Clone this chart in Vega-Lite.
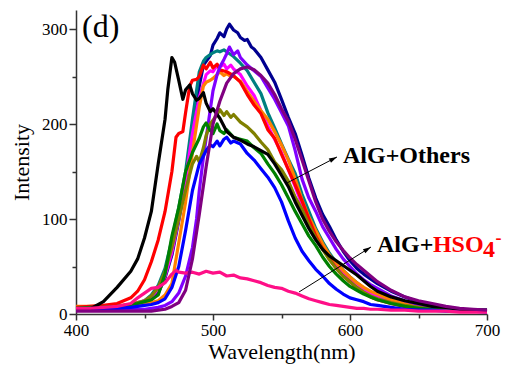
{
"$schema":"https://vega.github.io/schema/vega-lite/v6.json",
"width":411,"height":304,
"autosize":{"type":"none"},
"padding":{"left":76,"top":10,"right":18,"bottom":55},
"background":"white",
"config":{"view":{"stroke":null},"font":"Liberation Serif",
"axis":{"grid":false,"domainColor":"#333","domainWidth":1.5,"tickColor":"#333","tickWidth":1.5,"labelFont":"Liberation Serif","labelFontSize":17,"labelColor":"#000","titleFont":"Liberation Serif","titleFontSize":22,"titleFontWeight":"normal","titleColor":"#000","labelFlush":false,"labelOverlap":false}},
"datasets":{
"spec":[
{"s":"n","x":400,"y":6},{"s":"n","x":410,"y":6},{"s":"n","x":420,"y":7},{"s":"n","x":430,"y":7},{"s":"n","x":440,"y":8},{"s":"n","x":445,"y":9},{"s":"n","x":450,"y":11},{"s":"n","x":455,"y":15},{"s":"n","x":460,"y":22},{"s":"n","x":465,"y":38},{"s":"n","x":470,"y":62},{"s":"n","x":475,"y":98},{"s":"n","x":480,"y":140},{"s":"n","x":485,"y":195},{"s":"n","x":490,"y":240},{"s":"n","x":493,"y":262},{"s":"n","x":495,"y":266},{"s":"n","x":498,"y":272},{"s":"n","x":500,"y":283},{"s":"n","x":503,"y":290},{"s":"n","x":505,"y":296},{"s":"n","x":508,"y":292},{"s":"n","x":510,"y":300},{"s":"n","x":512,"y":305},{"s":"n","x":515,"y":299},{"s":"n","x":518,"y":296},{"s":"n","x":520,"y":291},{"s":"n","x":523,"y":288},{"s":"n","x":525,"y":289},{"s":"n","x":528,"y":281},{"s":"n","x":530,"y":279},{"s":"n","x":535,"y":270},{"s":"n","x":540,"y":257},{"s":"n","x":545,"y":244},{"s":"n","x":550,"y":226},{"s":"n","x":555,"y":207},{"s":"n","x":560,"y":190},{"s":"n","x":565,"y":167},{"s":"n","x":570,"y":143},{"s":"n","x":575,"y":122},{"s":"n","x":580,"y":105},{"s":"n","x":585,"y":92},{"s":"n","x":590,"y":78},{"s":"n","x":595,"y":66},{"s":"n","x":600,"y":56},{"s":"n","x":605,"y":48},{"s":"n","x":610,"y":42},{"s":"n","x":615,"y":37},{"s":"n","x":620,"y":32},{"s":"n","x":630,"y":24},{"s":"n","x":640,"y":18},{"s":"n","x":650,"y":13},{"s":"n","x":660,"y":9},{"s":"n","x":670,"y":7},{"s":"n","x":680,"y":5},{"s":"n","x":690,"y":4},{"s":"n","x":700,"y":4},
{"s":"t","x":400,"y":6},{"s":"t","x":410,"y":6},{"s":"t","x":420,"y":7},{"s":"t","x":430,"y":8},{"s":"t","x":440,"y":9},{"s":"t","x":445,"y":11},{"s":"t","x":450,"y":14},{"s":"t","x":455,"y":20},{"s":"t","x":460,"y":30},{"s":"t","x":465,"y":48},{"s":"t","x":470,"y":78},{"s":"t","x":475,"y":112},{"s":"t","x":480,"y":150},{"s":"t","x":485,"y":205},{"s":"t","x":490,"y":255},{"s":"t","x":493,"y":266},{"s":"t","x":495,"y":270},{"s":"t","x":498,"y":273},{"s":"t","x":500,"y":275},{"s":"t","x":503,"y":277},{"s":"t","x":505,"y":276},{"s":"t","x":508,"y":278},{"s":"t","x":510,"y":276},{"s":"t","x":515,"y":271},{"s":"t","x":520,"y":264},{"s":"t","x":525,"y":256},{"s":"t","x":530,"y":244},{"s":"t","x":535,"y":232},{"s":"t","x":540,"y":212},{"s":"t","x":545,"y":196},{"s":"t","x":550,"y":179},{"s":"t","x":555,"y":163},{"s":"t","x":560,"y":148},{"s":"t","x":565,"y":126},{"s":"t","x":570,"y":108},{"s":"t","x":575,"y":90},{"s":"t","x":580,"y":76},{"s":"t","x":585,"y":64},{"s":"t","x":590,"y":54},{"s":"t","x":595,"y":46},{"s":"t","x":600,"y":39},{"s":"t","x":605,"y":33},{"s":"t","x":610,"y":27},{"s":"t","x":615,"y":23},{"s":"t","x":620,"y":19},{"s":"t","x":630,"y":14},{"s":"t","x":640,"y":10},{"s":"t","x":650,"y":8},{"s":"t","x":660,"y":6},{"s":"t","x":670,"y":5},{"s":"t","x":680,"y":4},{"s":"t","x":690,"y":4},{"s":"t","x":700,"y":3},
{"s":"m","x":400,"y":6},{"s":"m","x":410,"y":7},{"s":"m","x":420,"y":7},{"s":"m","x":430,"y":8},{"s":"m","x":440,"y":10},{"s":"m","x":445,"y":12},{"s":"m","x":450,"y":14},{"s":"m","x":455,"y":18},{"s":"m","x":460,"y":26},{"s":"m","x":465,"y":40},{"s":"m","x":470,"y":65},{"s":"m","x":475,"y":100},{"s":"m","x":480,"y":142},{"s":"m","x":485,"y":190},{"s":"m","x":490,"y":228},{"s":"m","x":495,"y":252},{"s":"m","x":498,"y":256},{"s":"m","x":500,"y":255},{"s":"m","x":503,"y":262},{"s":"m","x":505,"y":260},{"s":"m","x":508,"y":263},{"s":"m","x":510,"y":258},{"s":"m","x":513,"y":262},{"s":"m","x":515,"y":258},{"s":"m","x":520,"y":252},{"s":"m","x":525,"y":240},{"s":"m","x":530,"y":230},{"s":"m","x":535,"y":214},{"s":"m","x":540,"y":198},{"s":"m","x":545,"y":184},{"s":"m","x":550,"y":170},{"s":"m","x":555,"y":152},{"s":"m","x":560,"y":134},{"s":"m","x":565,"y":115},{"s":"m","x":570,"y":98},{"s":"m","x":575,"y":83},{"s":"m","x":580,"y":70},{"s":"m","x":585,"y":60},{"s":"m","x":590,"y":51},{"s":"m","x":595,"y":43},{"s":"m","x":600,"y":37},{"s":"m","x":605,"y":31},{"s":"m","x":610,"y":26},{"s":"m","x":615,"y":22},{"s":"m","x":620,"y":19},{"s":"m","x":630,"y":14},{"s":"m","x":640,"y":10},{"s":"m","x":650,"y":7},{"s":"m","x":660,"y":6},{"s":"m","x":670,"y":5},{"s":"m","x":680,"y":4},{"s":"m","x":690,"y":4},{"s":"m","x":700,"y":3},
{"s":"o","x":400,"y":8},{"s":"o","x":410,"y":8},{"s":"o","x":420,"y":8},{"s":"o","x":430,"y":9},{"s":"o","x":440,"y":9},{"s":"o","x":445,"y":10},{"s":"o","x":450,"y":11},{"s":"o","x":455,"y":12},{"s":"o","x":460,"y":14},{"s":"o","x":465,"y":20},{"s":"o","x":470,"y":32},{"s":"o","x":475,"y":75},{"s":"o","x":480,"y":118},{"s":"o","x":485,"y":170},{"s":"o","x":490,"y":218},{"s":"o","x":493,"y":240},{"s":"o","x":495,"y":244},{"s":"o","x":498,"y":246},{"s":"o","x":500,"y":248},{"s":"o","x":503,"y":252},{"s":"o","x":505,"y":255},{"s":"o","x":508,"y":251},{"s":"o","x":510,"y":253},{"s":"o","x":513,"y":250},{"s":"o","x":515,"y":250},{"s":"o","x":520,"y":245},{"s":"o","x":525,"y":234},{"s":"o","x":530,"y":224},{"s":"o","x":535,"y":214},{"s":"o","x":540,"y":205},{"s":"o","x":545,"y":192},{"s":"o","x":550,"y":178},{"s":"o","x":555,"y":162},{"s":"o","x":560,"y":142},{"s":"o","x":565,"y":120},{"s":"o","x":570,"y":102},{"s":"o","x":575,"y":88},{"s":"o","x":580,"y":74},{"s":"o","x":585,"y":62},{"s":"o","x":590,"y":54},{"s":"o","x":595,"y":46},{"s":"o","x":600,"y":39},{"s":"o","x":605,"y":33},{"s":"o","x":610,"y":28},{"s":"o","x":615,"y":24},{"s":"o","x":620,"y":21},{"s":"o","x":630,"y":15},{"s":"o","x":640,"y":11},{"s":"o","x":650,"y":8},{"s":"o","x":660,"y":6},{"s":"o","x":670,"y":5},{"s":"o","x":680,"y":4},{"s":"o","x":690,"y":4},{"s":"o","x":700,"y":3},
{"s":"r","x":400,"y":7},{"s":"r","x":410,"y":8},{"s":"r","x":420,"y":9},{"s":"r","x":430,"y":11},{"s":"r","x":440,"y":17},{"s":"r","x":445,"y":24},{"s":"r","x":450,"y":36},{"s":"r","x":455,"y":55},{"s":"r","x":460,"y":78},{"s":"r","x":465,"y":108},{"s":"r","x":470,"y":150},{"s":"r","x":473,"y":186},{"s":"r","x":475,"y":190},{"s":"r","x":478,"y":192},{"s":"r","x":480,"y":212},{"s":"r","x":483,"y":240},{"s":"r","x":485,"y":246},{"s":"r","x":488,"y":247},{"s":"r","x":490,"y":250},{"s":"r","x":493,"y":262},{"s":"r","x":495,"y":258},{"s":"r","x":498,"y":265},{"s":"r","x":500,"y":259},{"s":"r","x":503,"y":263},{"s":"r","x":505,"y":257},{"s":"r","x":510,"y":255},{"s":"r","x":515,"y":251},{"s":"r","x":520,"y":244},{"s":"r","x":525,"y":231},{"s":"r","x":530,"y":220},{"s":"r","x":535,"y":211},{"s":"r","x":540,"y":194},{"s":"r","x":545,"y":185},{"s":"r","x":550,"y":168},{"s":"r","x":555,"y":152},{"s":"r","x":560,"y":136},{"s":"r","x":565,"y":119},{"s":"r","x":570,"y":100},{"s":"r","x":575,"y":82},{"s":"r","x":580,"y":69},{"s":"r","x":585,"y":58},{"s":"r","x":590,"y":48},{"s":"r","x":595,"y":40},{"s":"r","x":600,"y":34},{"s":"r","x":605,"y":27},{"s":"r","x":610,"y":22},{"s":"r","x":615,"y":18},{"s":"r","x":620,"y":15},{"s":"r","x":630,"y":11},{"s":"r","x":640,"y":8},{"s":"r","x":650,"y":6},{"s":"r","x":660,"y":5},{"s":"r","x":670,"y":4},{"s":"r","x":680,"y":4},{"s":"r","x":690,"y":3},{"s":"r","x":700,"y":3},
{"s":"v","x":400,"y":4},{"s":"v","x":410,"y":4},{"s":"v","x":420,"y":4},{"s":"v","x":430,"y":4},{"s":"v","x":440,"y":5},{"s":"v","x":445,"y":5},{"s":"v","x":450,"y":5},{"s":"v","x":455,"y":6},{"s":"v","x":460,"y":7},{"s":"v","x":465,"y":9},{"s":"v","x":470,"y":13},{"s":"v","x":475,"y":22},{"s":"v","x":480,"y":40},{"s":"v","x":485,"y":70},{"s":"v","x":488,"y":100},{"s":"v","x":490,"y":130},{"s":"v","x":493,"y":165},{"s":"v","x":495,"y":185},{"s":"v","x":498,"y":215},{"s":"v","x":500,"y":235},{"s":"v","x":503,"y":252},{"s":"v","x":505,"y":260},{"s":"v","x":508,"y":268},{"s":"v","x":510,"y":274},{"s":"v","x":512,"y":281},{"s":"v","x":515,"y":273},{"s":"v","x":518,"y":277},{"s":"v","x":520,"y":270},{"s":"v","x":525,"y":262},{"s":"v","x":530,"y":256},{"s":"v","x":535,"y":250},{"s":"v","x":540,"y":238},{"s":"v","x":545,"y":226},{"s":"v","x":550,"y":212},{"s":"v","x":555,"y":198},{"s":"v","x":560,"y":172},{"s":"v","x":565,"y":142},{"s":"v","x":570,"y":122},{"s":"v","x":575,"y":108},{"s":"v","x":580,"y":92},{"s":"v","x":585,"y":80},{"s":"v","x":590,"y":68},{"s":"v","x":595,"y":58},{"s":"v","x":600,"y":50},{"s":"v","x":605,"y":42},{"s":"v","x":610,"y":36},{"s":"v","x":615,"y":31},{"s":"v","x":620,"y":27},{"s":"v","x":630,"y":19},{"s":"v","x":640,"y":14},{"s":"v","x":650,"y":10},{"s":"v","x":660,"y":7},{"s":"v","x":670,"y":5},{"s":"v","x":680,"y":4},{"s":"v","x":690,"y":3},{"s":"v","x":700,"y":3},
{"s":"ol","x":400,"y":6},{"s":"ol","x":410,"y":6},{"s":"ol","x":420,"y":7},{"s":"ol","x":430,"y":8},{"s":"ol","x":440,"y":10},{"s":"ol","x":445,"y":12},{"s":"ol","x":450,"y":14},{"s":"ol","x":455,"y":19},{"s":"ol","x":460,"y":28},{"s":"ol","x":465,"y":45},{"s":"ol","x":470,"y":70},{"s":"ol","x":475,"y":100},{"s":"ol","x":480,"y":130},{"s":"ol","x":485,"y":158},{"s":"ol","x":488,"y":166},{"s":"ol","x":490,"y":160},{"s":"ol","x":493,"y":175},{"s":"ol","x":495,"y":188},{"s":"ol","x":498,"y":200},{"s":"ol","x":500,"y":204},{"s":"ol","x":503,"y":210},{"s":"ol","x":505,"y":215},{"s":"ol","x":508,"y":209},{"s":"ol","x":510,"y":213},{"s":"ol","x":513,"y":207},{"s":"ol","x":515,"y":210},{"s":"ol","x":520,"y":202},{"s":"ol","x":525,"y":197},{"s":"ol","x":530,"y":190},{"s":"ol","x":535,"y":181},{"s":"ol","x":540,"y":173},{"s":"ol","x":545,"y":160},{"s":"ol","x":550,"y":152},{"s":"ol","x":555,"y":140},{"s":"ol","x":560,"y":123},{"s":"ol","x":565,"y":110},{"s":"ol","x":570,"y":94},{"s":"ol","x":575,"y":80},{"s":"ol","x":580,"y":68},{"s":"ol","x":585,"y":57},{"s":"ol","x":590,"y":48},{"s":"ol","x":595,"y":40},{"s":"ol","x":600,"y":34},{"s":"ol","x":605,"y":28},{"s":"ol","x":610,"y":23},{"s":"ol","x":615,"y":19},{"s":"ol","x":620,"y":16},{"s":"ol","x":630,"y":12},{"s":"ol","x":640,"y":9},{"s":"ol","x":650,"y":7},{"s":"ol","x":660,"y":5},{"s":"ol","x":670,"y":4},{"s":"ol","x":680,"y":4},{"s":"ol","x":690,"y":3},{"s":"ol","x":700,"y":3},
{"s":"g","x":400,"y":6},{"s":"g","x":410,"y":7},{"s":"g","x":420,"y":7},{"s":"g","x":430,"y":8},{"s":"g","x":440,"y":10},{"s":"g","x":445,"y":11},{"s":"g","x":450,"y":13},{"s":"g","x":455,"y":15},{"s":"g","x":460,"y":20},{"s":"g","x":465,"y":42},{"s":"g","x":470,"y":82},{"s":"g","x":475,"y":112},{"s":"g","x":480,"y":150},{"s":"g","x":485,"y":170},{"s":"g","x":490,"y":185},{"s":"g","x":493,"y":197},{"s":"g","x":495,"y":201},{"s":"g","x":498,"y":193},{"s":"g","x":500,"y":190},{"s":"g","x":503,"y":200},{"s":"g","x":505,"y":193},{"s":"g","x":508,"y":190},{"s":"g","x":510,"y":194},{"s":"g","x":515,"y":186},{"s":"g","x":520,"y":184},{"s":"g","x":525,"y":182},{"s":"g","x":530,"y":175},{"s":"g","x":535,"y":169},{"s":"g","x":540,"y":158},{"s":"g","x":545,"y":148},{"s":"g","x":550,"y":136},{"s":"g","x":555,"y":122},{"s":"g","x":560,"y":108},{"s":"g","x":565,"y":95},{"s":"g","x":570,"y":82},{"s":"g","x":575,"y":72},{"s":"g","x":580,"y":60},{"s":"g","x":585,"y":50},{"s":"g","x":590,"y":42},{"s":"g","x":595,"y":35},{"s":"g","x":600,"y":29},{"s":"g","x":605,"y":25},{"s":"g","x":610,"y":21},{"s":"g","x":615,"y":18},{"s":"g","x":620,"y":15},{"s":"g","x":630,"y":11},{"s":"g","x":640,"y":8},{"s":"g","x":650,"y":6},{"s":"g","x":660,"y":5},{"s":"g","x":670,"y":4},{"s":"g","x":680,"y":4},{"s":"g","x":690,"y":3},{"s":"g","x":700,"y":3},
{"s":"b","x":400,"y":5},{"s":"b","x":410,"y":5},{"s":"b","x":420,"y":6},{"s":"b","x":430,"y":6},{"s":"b","x":440,"y":7},{"s":"b","x":445,"y":8},{"s":"b","x":450,"y":9},{"s":"b","x":455,"y":10},{"s":"b","x":460,"y":12},{"s":"b","x":465,"y":16},{"s":"b","x":470,"y":28},{"s":"b","x":475,"y":50},{"s":"b","x":480,"y":88},{"s":"b","x":485,"y":130},{"s":"b","x":490,"y":158},{"s":"b","x":495,"y":172},{"s":"b","x":498,"y":178},{"s":"b","x":500,"y":176},{"s":"b","x":503,"y":182},{"s":"b","x":505,"y":177},{"s":"b","x":508,"y":184},{"s":"b","x":510,"y":186},{"s":"b","x":513,"y":180},{"s":"b","x":515,"y":182},{"s":"b","x":520,"y":179},{"s":"b","x":525,"y":169},{"s":"b","x":530,"y":162},{"s":"b","x":535,"y":153},{"s":"b","x":540,"y":144},{"s":"b","x":545,"y":133},{"s":"b","x":550,"y":118},{"s":"b","x":555,"y":98},{"s":"b","x":560,"y":80},{"s":"b","x":565,"y":66},{"s":"b","x":570,"y":56},{"s":"b","x":575,"y":47},{"s":"b","x":580,"y":40},{"s":"b","x":585,"y":32},{"s":"b","x":590,"y":26},{"s":"b","x":595,"y":21},{"s":"b","x":600,"y":17},{"s":"b","x":605,"y":15},{"s":"b","x":610,"y":13},{"s":"b","x":615,"y":10},{"s":"b","x":620,"y":9},{"s":"b","x":630,"y":7},{"s":"b","x":640,"y":5},{"s":"b","x":650,"y":4},{"s":"b","x":660,"y":4},{"s":"b","x":670,"y":3},{"s":"b","x":680,"y":3},{"s":"b","x":690,"y":3},{"s":"b","x":700,"y":2},
{"s":"k","x":400,"y":4},{"s":"k","x":410,"y":5},{"s":"k","x":420,"y":13},{"s":"k","x":430,"y":28},{"s":"k","x":440,"y":45},{"s":"k","x":445,"y":58},{"s":"k","x":450,"y":80},{"s":"k","x":455,"y":108},{"s":"k","x":460,"y":158},{"s":"k","x":465,"y":205},{"s":"k","x":467,"y":236},{"s":"k","x":470,"y":270},{"s":"k","x":472,"y":265},{"s":"k","x":475,"y":246},{"s":"k","x":478,"y":226},{"s":"k","x":480,"y":236},{"s":"k","x":483,"y":241},{"s":"k","x":485,"y":232},{"s":"k","x":488,"y":225},{"s":"k","x":490,"y":227},{"s":"k","x":493,"y":233},{"s":"k","x":495,"y":222},{"s":"k","x":498,"y":213},{"s":"k","x":500,"y":216},{"s":"k","x":503,"y":210},{"s":"k","x":505,"y":206},{"s":"k","x":510,"y":192},{"s":"k","x":515,"y":186},{"s":"k","x":520,"y":183},{"s":"k","x":525,"y":179},{"s":"k","x":530,"y":176},{"s":"k","x":535,"y":172},{"s":"k","x":540,"y":168},{"s":"k","x":545,"y":158},{"s":"k","x":550,"y":146},{"s":"k","x":555,"y":134},{"s":"k","x":560,"y":118},{"s":"k","x":565,"y":104},{"s":"k","x":570,"y":90},{"s":"k","x":575,"y":78},{"s":"k","x":580,"y":68},{"s":"k","x":585,"y":61},{"s":"k","x":590,"y":56},{"s":"k","x":595,"y":51},{"s":"k","x":600,"y":46},{"s":"k","x":605,"y":41},{"s":"k","x":610,"y":35},{"s":"k","x":615,"y":29},{"s":"k","x":620,"y":24},{"s":"k","x":630,"y":18},{"s":"k","x":640,"y":14},{"s":"k","x":650,"y":11},{"s":"k","x":660,"y":8},{"s":"k","x":670,"y":7},{"s":"k","x":680,"y":5},{"s":"k","x":690,"y":4},{"s":"k","x":700,"y":4},
{"s":"pk","x":400,"y":6},{"s":"pk","x":410,"y":6},{"s":"pk","x":420,"y":7},{"s":"pk","x":430,"y":8},{"s":"pk","x":440,"y":11},{"s":"pk","x":445,"y":17},{"s":"pk","x":450,"y":22},{"s":"pk","x":455,"y":27},{"s":"pk","x":460,"y":28},{"s":"pk","x":465,"y":33},{"s":"pk","x":470,"y":42},{"s":"pk","x":473,"y":46},{"s":"pk","x":475,"y":44},{"s":"pk","x":480,"y":43},{"s":"pk","x":485,"y":44},{"s":"pk","x":490,"y":42},{"s":"pk","x":495,"y":45},{"s":"pk","x":500,"y":43},{"s":"pk","x":505,"y":44},{"s":"pk","x":510,"y":40},{"s":"pk","x":515,"y":41},{"s":"pk","x":520,"y":38},{"s":"pk","x":525,"y":37},{"s":"pk","x":530,"y":35},{"s":"pk","x":535,"y":33},{"s":"pk","x":540,"y":30},{"s":"pk","x":545,"y":28},{"s":"pk","x":550,"y":27},{"s":"pk","x":555,"y":24},{"s":"pk","x":560,"y":22},{"s":"pk","x":565,"y":19},{"s":"pk","x":570,"y":16},{"s":"pk","x":575,"y":14},{"s":"pk","x":580,"y":12},{"s":"pk","x":585,"y":10},{"s":"pk","x":590,"y":9},{"s":"pk","x":595,"y":8},{"s":"pk","x":600,"y":7},{"s":"pk","x":605,"y":6},{"s":"pk","x":610,"y":6},{"s":"pk","x":615,"y":5},{"s":"pk","x":620,"y":5},{"s":"pk","x":630,"y":4},{"s":"pk","x":640,"y":4},{"s":"pk","x":650,"y":3},{"s":"pk","x":660,"y":3},{"s":"pk","x":670,"y":3},{"s":"pk","x":680,"y":2},{"s":"pk","x":690,"y":2},{"s":"pk","x":700,"y":2},
{"s":"p","x":400,"y":3},{"s":"p","x":410,"y":3},{"s":"p","x":420,"y":3},{"s":"p","x":430,"y":3},{"s":"p","x":440,"y":3},{"s":"p","x":445,"y":3},{"s":"p","x":450,"y":3},{"s":"p","x":455,"y":3},{"s":"p","x":460,"y":4},{"s":"p","x":465,"y":5},{"s":"p","x":470,"y":8},{"s":"p","x":475,"y":12},{"s":"p","x":480,"y":25},{"s":"p","x":485,"y":58},{"s":"p","x":490,"y":105},{"s":"p","x":495,"y":155},{"s":"p","x":500,"y":200},{"s":"p","x":505,"y":224},{"s":"p","x":510,"y":243},{"s":"p","x":515,"y":253},{"s":"p","x":520,"y":258},{"s":"p","x":525,"y":260},{"s":"p","x":530,"y":257},{"s":"p","x":535,"y":251},{"s":"p","x":540,"y":243},{"s":"p","x":545,"y":231},{"s":"p","x":550,"y":216},{"s":"p","x":555,"y":203},{"s":"p","x":560,"y":184},{"s":"p","x":565,"y":162},{"s":"p","x":570,"y":140},{"s":"p","x":575,"y":118},{"s":"p","x":580,"y":100},{"s":"p","x":585,"y":87},{"s":"p","x":590,"y":76},{"s":"p","x":595,"y":67},{"s":"p","x":600,"y":59},{"s":"p","x":605,"y":52},{"s":"p","x":610,"y":46},{"s":"p","x":615,"y":40},{"s":"p","x":620,"y":34},{"s":"p","x":630,"y":25},{"s":"p","x":640,"y":18},{"s":"p","x":650,"y":14},{"s":"p","x":660,"y":11},{"s":"p","x":670,"y":8},{"s":"p","x":680,"y":6},{"s":"p","x":690,"y":5},{"s":"p","x":700,"y":4}
]},
"layer":[
{"data":{"name":"spec"},
 "mark":{"type":"line","strokeWidth":3.2,"strokeJoin":"round"},
 "encoding":{
  "x":{"field":"x","type":"quantitative","scale":{"domain":[400,700],"nice":false,"zero":false},
   "axis":{"title":"Wavelength(nm)","values":[400,450,500,550,600,650,700],"labelExpr":"datum.value % 100 === 0 ? datum.label : ''","tickSize":{"condition":{"test":"datum.value % 100 === 0","value":6},"value":4},"labelPadding":2,"titlePadding":3}},
  "y":{"field":"y","type":"quantitative","scale":{"domain":[0,320],"nice":false},
   "axis":{"title":"Intensity","values":[0,50,100,150,200,250,300],"labelExpr":"datum.value % 100 === 0 ? datum.label : ''","tickSize":{"condition":{"test":"datum.value % 100 === 0","value":7},"value":4},"labelPadding":2,"titlePadding":8}},
  "color":{"field":"s","type":"nominal","legend":null,
   "scale":{"domain":["n","t","m","o","r","v","ol","g","b","k","pk","p"],
            "range":["#000090","#008080","#ff00ff","#ff8000","#ff0000","#8000ff","#808000","#008000","#0000ff","#000000","#ff0f87","#800080"]}}
 }},
{"data":{"values":[{"x":554.0,"y":137.9,"x2":590.5,"y2":165.3},{"x":562.8,"y":23.2,"x2":615.3,"y2":70.5}]},
 "mark":{"type":"rule","color":"#000","strokeWidth":1},
 "encoding":{"x":{"field":"x","type":"quantitative"},"y":{"field":"y","type":"quantitative"},"x2":{"field":"x2"},"y2":{"field":"y2"}}},
{"data":{"values":[{"x":590.5,"y":165.3}]},
 "mark":{"type":"point","shape":"M0,0L0.6,2L-0.6,2Z","filled":true,"color":"#000","size":64,"angle":62.5,"opacity":1},
 "encoding":{"x":{"field":"x","type":"quantitative"},"y":{"field":"y","type":"quantitative"}}},
{"data":{"values":[{"x":615.3,"y":70.5}]},
 "mark":{"type":"point","shape":"M0,0L0.6,2L-0.6,2Z","filled":true,"color":"#000","size":64,"angle":58.3,"opacity":1},
 "encoding":{"x":{"field":"x","type":"quantitative"},"y":{"field":"y","type":"quantitative"}}},
{"data":{"values":[{"t":"AlG+Others","x":594.9,"y":158.6},{"t":"AlG+","x":619.7,"y":65.3}]},
 "mark":{"type":"text","font":"Liberation Serif","fontWeight":"bold","fontSize":24,"color":"#000","align":"left","baseline":"alphabetic"},
 "encoding":{"x":{"field":"x","type":"quantitative"},"y":{"field":"y","type":"quantitative"},"text":{"field":"t"}}},
{"data":{"values":[{"t":"HSO","x":660.5,"y":65.3},{"t":"4","x":697.1,"y":60}]},
 "mark":{"type":"text","font":"Liberation Serif","fontWeight":"bold","fontSize":24,"color":"#ff0000","align":"left","baseline":"alphabetic"},
 "encoding":{"x":{"field":"x","type":"quantitative"},"y":{"field":"y","type":"quantitative"},"text":{"field":"t"}}},
{"data":{"values":[{"t":"-","x":706.2,"y":74.2}]},
 "mark":{"type":"text","font":"Liberation Serif","fontWeight":"bold","fontSize":18,"color":"#ff0000","align":"left","baseline":"alphabetic"},
 "encoding":{"x":{"field":"x","type":"quantitative"},"y":{"field":"y","type":"quantitative"},"text":{"field":"t"}}},
{"data":{"values":[{"t":"(d)","x":404.4,"y":291.6}]},
 "mark":{"type":"text","font":"Liberation Serif","fontSize":32,"color":"#000","align":"left","baseline":"alphabetic"},
 "encoding":{"x":{"field":"x","type":"quantitative"},"y":{"field":"y","type":"quantitative"},"text":{"field":"t"}}}
]
}
